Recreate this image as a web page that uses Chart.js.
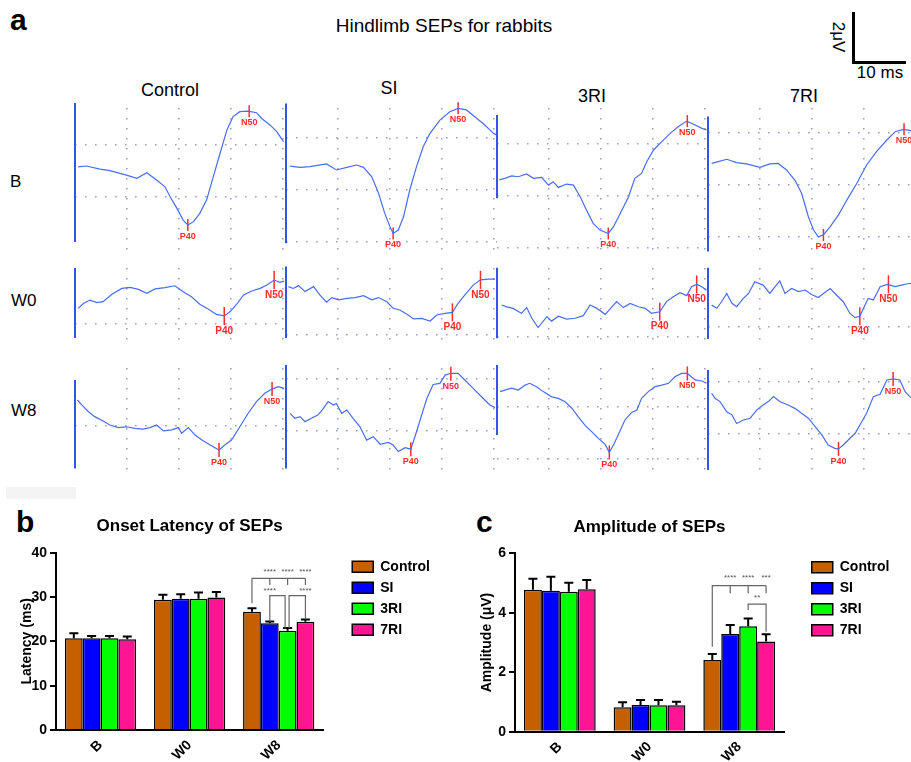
<!DOCTYPE html>
<html>
<head>
<meta charset="utf-8">
<title>Hindlimb SEPs for rabbits</title>
<script src="https://cdn.jsdelivr.net/npm/chart.js@4/dist/chart.umd.min.js"></script>
<style>
  body { margin: 0; width: 911px; height: 762px; position: relative; overflow: hidden; background: #fff;
         font-family: "Liberation Sans", Arial, sans-serif; }
  .txt { position: absolute; line-height: 1; white-space: nowrap; color: #000; }
  .ctr { transform: translateX(-50%); }
  .bold { font-weight: bold; }
  .bar { position: absolute; background: #000; }
  canvas { position: absolute; }
</style>
</head>
<body>
<div class="txt bold" style="left:10px;top:5px;font-size:30px">a</div>
<div class="txt ctr" style="left:444px;top:16px;font-size:19px">Hindlimb SEPs for rabbits</div>
<div class="bar" style="left:852px;top:12px;width:2.5px;height:51px"></div>
<div class="bar" style="left:852px;top:61px;width:54px;height:2.5px"></div>
<div class="txt" style="left:838px;top:37px;font-size:17px;transform:translate(-50%,-50%) rotate(90deg)">2μV</div>
<div class="txt ctr" style="left:880px;top:64px;font-size:17px">10 ms</div>
<div class="txt ctr" style="left:170px;top:81px;font-size:18px">Control</div>
<div class="txt ctr" style="left:389px;top:79px;font-size:18px">SI</div>
<div class="txt ctr" style="left:592px;top:87px;font-size:18px">3RI</div>
<div class="txt ctr" style="left:804px;top:87px;font-size:18px">7RI</div>
<div class="txt" style="left:10px;top:173px;font-size:17px">B</div>
<div class="txt" style="left:11px;top:292px;font-size:17px">W0</div>
<div class="txt" style="left:11px;top:402px;font-size:17px">W8</div>
<div style="position:absolute;left:6px;top:487px;width:70px;height:12px;background:#f4f4f4"></div>
<div class="txt bold" style="left:16px;top:506.6px;font-size:30px">b</div>
<div class="txt bold" style="left:476px;top:506.6px;font-size:30px">c</div>
<canvas id="latency" width="460" height="262" style="left:0;top:500px"></canvas>
<canvas id="amplitude" width="451" height="262" style="left:460px;top:500px"></canvas>
<script>
// ---------- panel a: SEP traces, [ms after stimulus, µV] ----------
const bControl = [[0.6,1.15],[2.2,1.18],[4.8,1.06],[6.7,1.0],[9.9,0.83],[11.9,0.71],[13.8,0.92],[15.7,0.64],[17.3,0.38],[18.3,0.0],[19.6,-0.45],[20.8,-0.9],[21.7,-1.09],[22.8,-0.96],[24.0,-0.64],[25.3,-0.13],[26.6,0.77],[27.9,1.67],[29.2,2.56],[30.4,3.08],[31.7,3.27],[33.3,3.29],[34.9,3.23],[35.9,3.01],[37.5,2.76],[38.8,2.5],[40.1,2.12]];
const bSI = [[0.8,0.92],[2.7,0.87],[4.6,0.9],[7.8,1.0],[9.7,0.77],[11.7,0.87],[13.6,0.96],[14.9,0.87],[16.5,0.51],[17.8,-0.13],[19.0,-0.9],[20.0,-1.41],[20.6,-1.67],[21.6,-1.54],[22.6,-1.03],[23.8,0.0],[25.1,0.9],[26.4,1.67],[27.7,2.18],[29.6,2.69],[31.5,3.01],[33.1,3.14],[34.7,3.08],[36.3,2.82],[37.9,2.56],[39.9,2.18],[40.5,2.12]];
const b3RI = [[0.45,0.62],[1.5,0.68],[2.8,0.77],[4.1,0.74],[5.7,0.85],[7.0,0.68],[8.6,0.72],[9.9,0.42],[10.8,0.55],[11.8,0.33],[13.4,0.46],[14.7,0.42],[16.0,-0.03],[17.2,-0.54],[18.5,-1.05],[19.8,-1.31],[21.4,-1.44],[22.4,-1.18],[23.7,-0.67],[25.3,-0.03],[26.5,0.68],[27.8,0.87],[28.8,1.32],[30.1,1.77],[31.7,2.09],[33.3,2.41],[34.9,2.67],[36.5,2.88],[38.1,2.73],[39.4,2.6],[40.3,2.54]];
const b7RI = [[0.7,0.83],[2.0,0.9],[3.6,0.99],[5.5,0.86],[7.4,0.81],[10.0,0.68],[11.9,0.81],[13.5,0.83],[15.1,0.58],[16.7,0.19],[18.0,-0.32],[19.3,-1.22],[20.3,-1.73],[21.2,-1.99],[22.2,-1.92],[23.5,-1.6],[25.1,-1.15],[26.7,-0.58],[28.6,0.06],[30.5,0.77],[32.4,1.28],[34.4,1.73],[36.0,2.05],[37.6,2.14],[39.0,2.09],[39.6,2.02]];

const w0Control = [[0.64,0.6],[1.6,0.79],[2.9,0.92],[4.2,0.82],[5.4,0.86],[7.1,1.14],[9.0,1.37],[10.6,1.41],[12.2,1.33],[13.8,1.18],[15.4,1.35],[17.3,1.4],[19.2,1.47],[20.8,1.24],[22.4,1.05],[24.0,0.76],[25.6,0.58],[27.2,0.37],[28.7,0.31],[29.8,0.47],[31.1,0.76],[32.4,1.12],[34.0,1.27],[35.6,1.37],[36.9,1.5],[38.3,1.69],[39.4,1.6],[40.2,1.65]];
const w0SI = [[0.45,1.86],[1.4,1.79],[2.4,1.9],[3.65,1.67],[5.3,1.86],[6.5,1.54],[7.8,1.26],[8.8,1.44],[10.1,1.35],[11.7,1.41],[13.3,1.44],[14.9,1.51],[16.5,1.35],[17.8,1.44],[19.4,1.28],[20.6,1.03],[21.9,0.96],[23.5,0.77],[24.5,0.62],[26.1,0.64],[27.7,0.54],[29.0,0.77],[30.6,0.83],[32.0,0.87],[33.1,1.22],[34.4,1.54],[36.0,1.92],[37.4,2.12],[38.9,2.15],[40.2,2.15]];
const w03RI = [[0.9,1.22],[1.9,1.15],[3.1,1.09],[4.7,0.9],[5.7,1.12],[6.7,0.71],[7.9,0.35],[9.6,0.77],[10.5,0.6],[11.8,0.79],[13.4,0.68],[15.0,0.71],[16.6,0.81],[17.9,1.22],[19.2,1.09],[20.8,0.86],[22.1,1.15],[23.0,1.35],[24.3,1.12],[25.6,1.28],[27.2,1.15],[28.5,1.09],[29.7,0.9],[31.3,0.96],[32.6,1.35],[33.9,1.54],[35.2,1.69],[36.5,1.58],[37.4,1.92],[38.4,2.01],[39.4,1.92],[40.3,1.79]];
const w07RI = [[0.7,0.83],[1.7,0.71],[2.6,0.96],[3.6,1.28],[4.6,0.9],[5.5,0.77],[6.8,1.09],[7.8,1.28],[9.0,1.73],[10.6,1.6],[11.9,1.28],[12.9,1.54],[13.8,1.76],[14.8,1.28],[16.1,1.47],[17.4,1.35],[18.7,1.41],[19.9,1.24],[21.2,1.12],[22.2,1.28],[23.5,1.47],[24.7,1.22],[26.0,0.96],[27.3,0.51],[28.3,0.35],[29.2,0.4],[30.2,0.83],[30.8,1.09],[31.8,1.03],[33.1,1.54],[34.5,1.63],[36.0,1.54],[37.2,1.6],[38.8,1.67],[39.6,1.62]];

const w8Control = [[0.45,1.0],[1.3,0.81],[2.6,0.55],[3.8,0.36],[5.4,0.19],[6.7,0.04],[8.3,-0.06],[9.9,-0.03],[11.5,-0.09],[13.1,-0.12],[14.4,-0.06],[15.7,0.04],[17.0,-0.19],[18.6,-0.15],[19.9,-0.06],[20.5,-0.28],[21.8,-0.06],[23.1,-0.35],[24.4,-0.54],[26.0,-0.73],[27.7,-0.92],[28.8,-0.73],[30.1,-0.54],[31.7,-0.03],[33.3,0.49],[34.9,0.94],[36.5,1.26],[37.9,1.42],[39.1,1.51],[40.2,1.45]];
const w8SI = [[0.77,0.68],[1.7,0.49],[2.7,0.55],[3.65,0.36],[4.9,0.49],[6.2,0.62],[7.2,0.87],[8.1,1.13],[9.1,1.0],[9.7,1.06],[10.7,0.68],[11.7,0.81],[12.9,0.49],[14.2,0.17],[15.5,-0.35],[16.8,-0.22],[18.1,-0.51],[19.7,-0.44],[20.6,-0.54],[21.6,-0.79],[22.9,-0.64],[24.0,-0.7],[25.1,-0.03],[26.1,0.62],[27.1,1.26],[28.3,1.79],[29.6,1.83],[30.6,2.15],[31.7,2.22],[33.1,2.22],[34.4,1.96],[36.0,1.64],[37.9,1.26],[39.2,1.0],[40.2,0.9]];
const w83RI = [[0.6,0.58],[1.5,0.64],[2.8,0.71],[4.1,0.64],[5.4,0.83],[6.3,0.9],[7.6,0.77],[8.9,0.58],[10.5,0.38],[11.8,0.32],[13.1,0.19],[14.4,-0.06],[15.6,-0.38],[16.9,-0.71],[18.2,-0.96],[19.5,-1.22],[20.8,-1.45],[21.6,-1.76],[22.4,-1.47],[23.3,-1.09],[24.6,-0.51],[25.9,-0.22],[26.9,-0.13],[27.8,0.32],[29.1,0.58],[30.4,0.77],[31.7,0.83],[33.0,0.9],[34.2,1.15],[35.5,1.28],[36.6,1.28],[38.1,1.03],[39.4,0.99],[40.3,0.9]];
const w87RI = [[0.7,1.54],[1.35,1.35],[2.3,1.22],[3.6,0.83],[4.6,0.71],[5.5,0.38],[6.8,0.51],[8.1,0.58],[9.4,0.9],[10.6,1.09],[11.6,1.22],[12.6,1.41],[13.8,1.22],[15.4,1.09],[16.7,0.96],[18.0,0.77],[19.3,0.58],[20.6,0.26],[21.9,-0.06],[23.1,-0.45],[24.4,-0.58],[25.1,-0.6],[26.0,-0.45],[27.3,-0.19],[28.3,0.0],[29.2,0.32],[30.5,0.77],[31.8,1.41],[33.1,1.5],[34.4,2.05],[35.6,2.09],[36.9,2.05],[37.9,1.6],[38.8,1.41],[39.6,1.3]];

// stimulus artefact extent [top µV, bottom µV] for Control, SI, 3RI, 7RI
const stimB = [[3.6,-1.74],[3.33,-2.05],[3.12,-0.09],[2.63,-2.56]];
const stimW0 = [[2.15,-0.54],[2.63,-0.12],[2.65,-0.06],[2.27,-0.47]];
const stimW8 = [[1.77,-1.63],[2.54,-1.44],[1.6,-1.09],[2.43,-1.41]];

// marked peaks [P40 ms, P40 µV, N50 ms, N50 µV]
const peaksB = [[21.7,-1.09,33.5,3.29],[20.6,-1.67,33.1,3.14],[21.4,-1.44,36.6,2.88],[22.2,-1.92,37.7,2.14]];
const peaksW0 = [[28.7,0.31,38.3,1.69],[32.0,0.87,37.4,2.12],[31.3,0.96,38.4,2.01],[29.2,0.4,34.7,1.63]];
const peaksW8 = [[27.7,-0.92,37.9,1.42],[24.0,-0.7,31.7,2.2],[21.6,-1.76,36.6,1.28],[25.1,-0.6,35.6,2.09]];

// ---------- panels b and c ----------
const groups = ['B', 'W0', 'W8'];
const seriesNames = ['Control', 'SI', '3RI', '7RI'];
const latencyMean = [[20.7, 29.4, 26.7], [20.7, 29.6, 24.1], [20.7, 29.6, 22.4], [20.5, 29.9, 24.4]];
const latencySem = [[1.1, 1.1, 0.75], [0.5, 1.0, 0.4], [0.5, 1.4, 0.6], [0.6, 1.25, 0.55]];
const amplitudeMean = [[4.77, 0.82, 2.41], [4.74, 0.90, 3.29], [4.71, 0.89, 3.55], [4.79, 0.89, 3.03]];
const amplitudeSem = [[0.37, 0.17, 0.20], [0.47, 0.17, 0.30], [0.30, 0.18, 0.26], [0.31, 0.12, 0.25]];

// significance marks at W8 (series index, bracket heights in axis units)
const latencyStars = {
  group: 2,
  fan: {ref: 0, targets: [1, 2, 3], stars: ['****', '****', '****'], y: 34.2, refEnd: 28.6, tickEnd: 32.7, labelY: 35.7},
  pairs: [
    {a: 1, b: 2, stars: '****', y: 30.3, aEnd: 24.45, bEnd: 22.95, labelAt: 'a', labelY: 31.5, bShift: -2.5},
    {a: 2, b: 3, stars: '****', y: 30.3, aEnd: 22.95, bEnd: 25.0, labelAt: 'b', labelY: 31.5, aShift: 1.5}
  ]
};
const amplitudeStars = {
  group: 2,
  fan: {ref: 0, targets: [1, 2, 3], stars: ['****', '****', '***'], y: 4.91, refEnd: 2.86, tickEnd: 4.66, labelY: 5.16},
  pairs: [
    {a: 2, b: 3, stars: '**', y: 4.29, aEnd: 4.09, bEnd: 3.36, labelAt: 'mid', labelY: 4.49}
  ]
};

// ---------- styles / layout ----------
Chart.defaults.font.family = '"Liberation Sans", Arial, sans-serif';
Chart.defaults.color = '#000';

const seriesColors = ['#c46000', '#0000ff', '#00ff00', '#ff1493'];
const traceColor = '#4a6cf0';
const stimColor = '#3354ea';
const peakColor = '#ff2a2a';
const dotColor = '#9aa0cc';
const PX_MS = 5.2, PX_UV = 26, TRACE_W = 211;
const colLeft = [75, 286, 497, 708];

const rows = [
  {traces: [bControl, bSI, b3RI, b7RI], stim: stimB, peaks: peaksB,
   zeroY: [196.7, 190, 196, 185], hRows: [[0, 2], [-2, 0, 2], [-2, 0, 2], [-2, 0, 2]],
   areaTop: 108, areaBottom: 250, padTop: 12, padBottom: 14, tick: 6, labelSize: 9},
  {traces: [w0Control, w0SI, w03RI, w07RI], stim: stimW0, peaks: peaksW0,
   zeroY: [324, 335, 336.7, 326.7], hRows: [[0], [0], [0], [0]],
   areaTop: 268, areaBottom: 340, padTop: 10, padBottom: 16, tick: 9, labelSize: 10},
  {traces: [w8Control, w8SI, w83RI, w87RI], stim: stimW8, peaks: peaksW8,
   zeroY: [426, 431, 406.7, 433.3], hRows: [[0], [0, 2], [-2, 0], [0, 2]],
   areaTop: 368, areaBottom: 470, padTop: 10, padBottom: 14, tick: 7, labelSize: 9}
];

const peakLabels = {
  id: 'peakLabels',
  afterDatasetsDraw(chart) {
    const ctx = chart.ctx;
    chart.data.datasets.forEach((ds, i) => {
      if (!ds.peakNames) return;
      ctx.save();
      ctx.fillStyle = ds.pointBorderColor;
      ctx.font = 'bold ' + ds.labelSize + 'px "Liberation Sans", Arial, sans-serif';
      ctx.textAlign = 'center';
      ctx.textBaseline = 'top';
      chart.getDatasetMeta(i).data.forEach((pt, j) => {
        ctx.fillText(ds.peakNames[j], pt.x, pt.y + ds.pointRadius + 1);
      });
      ctx.restore();
    });
  }
};

function dottedAxis(min, max, values) {
  return {
    type: 'linear', min: min, max: max,
    ticks: {display: false},
    grid: {drawTicks: false, color: dotColor, lineWidth: 1.6},
    border: {display: false, dash: [1.6, 8.4]},
    afterBuildTicks: s => { s.ticks = values.map(v => ({value: v})); }
  };
}

rows.forEach(row => {
  row.traces.forEach((trace, c) => {
    const cv = document.createElement('canvas');
    const h = row.areaBottom - row.areaTop + row.padTop + row.padBottom;
    cv.width = TRACE_W + 12;
    cv.height = h;
    cv.style.left = (colLeft[c] - 6) + 'px';
    cv.style.top = (row.areaTop - row.padTop) + 'px';
    document.body.appendChild(cv);

    const z = row.zeroY[c];
    const pk = row.peaks[c];
    new Chart(cv, {
      type: 'line',
      data: {
        datasets: [
          {data: [{x: 0, y: row.stim[c][0]}, {x: 0, y: row.stim[c][1]}],
           borderColor: stimColor, borderWidth: 2, pointRadius: 0, clip: false},
          {data: trace.map(p => ({x: p[0], y: p[1]})),
           borderColor: traceColor, borderWidth: 1.2, pointRadius: 0, tension: 0, clip: false},
          {data: [{x: pk[0], y: pk[1]}, {x: pk[2], y: pk[3]}], peakNames: ['P40', 'N50'],
           showLine: false, pointStyle: 'line', pointRotation: 90, pointRadius: row.tick,
           pointBorderColor: peakColor, pointBorderWidth: 1.5, labelSize: row.labelSize, clip: false}
        ]
      },
      options: {
        responsive: false, animation: false, events: [],
        layout: {autoPadding: false, padding: {left: 6, right: 6, top: row.padTop, bottom: row.padBottom}},
        plugins: {legend: {display: false}, tooltip: {enabled: false}},
        scales: {
          x: dottedAxis(0, TRACE_W / PX_MS, [10, 20, 30, 40]),
          y: dottedAxis((z - row.areaBottom) / PX_UV, (z - row.areaTop) / PX_UV, row.hRows[c])
        }
      },
      plugins: [peakLabels]
    });
  });
});

// ---------- bar charts ----------
const errorBars = {
  id: 'errorBars',
  afterDatasetsDraw(chart) {
    const {ctx, scales: {y}} = chart;
    ctx.save();
    ctx.strokeStyle = '#000';
    ctx.lineWidth = 2;
    chart.data.datasets.forEach((ds, i) => {
      chart.getDatasetMeta(i).data.forEach((bar, j) => {
        const top = y.getPixelForValue(ds.data[j] + ds.sem[j]);
        ctx.beginPath();
        ctx.moveTo(bar.x, bar.y);
        ctx.lineTo(bar.x, top);
        ctx.moveTo(bar.x - 4.5, top);
        ctx.lineTo(bar.x + 4.5, top);
        ctx.stroke();
      });
    });
    ctx.restore();
  }
};

function starBrackets(marks) {
  return {
    id: 'starBrackets',
    afterDatasetsDraw(chart) {
      const {ctx, scales: {y}} = chart;
      const X = (s, dx) => chart.getDatasetMeta(s).data[marks.group].x + (dx || 0);
      const Y = v => y.getPixelForValue(v);
      ctx.save();
      ctx.strokeStyle = '#666';
      ctx.lineWidth = 1.2;
      ctx.fillStyle = '#555';
      ctx.font = '8px "Liberation Sans", Arial, sans-serif';
      ctx.textAlign = 'center';
      ctx.textBaseline = 'middle';
      const f = marks.fan;
      const last = f.targets[f.targets.length - 1];
      ctx.beginPath();
      ctx.moveTo(X(f.ref), Y(f.refEnd));
      ctx.lineTo(X(f.ref), Y(f.y));
      ctx.lineTo(X(last), Y(f.y));
      f.targets.forEach(t => { ctx.moveTo(X(t), Y(f.y)); ctx.lineTo(X(t), Y(f.tickEnd)); });
      ctx.stroke();
      f.targets.forEach((t, k) => ctx.fillText(f.stars[k], X(t), Y(f.labelY)));
      marks.pairs.forEach(p => {
        const xa = X(p.a, p.aShift), xb = X(p.b, p.bShift);
        ctx.beginPath();
        ctx.moveTo(xa, Y(p.aEnd));
        ctx.lineTo(xa, Y(p.y));
        ctx.lineTo(xb, Y(p.y));
        ctx.lineTo(xb, Y(p.bEnd));
        ctx.stroke();
        const lx = p.labelAt === 'a' ? xa : p.labelAt === 'b' ? xb : (xa + xb) / 2;
        ctx.fillText(p.stars, lx, Y(p.labelY));
      });
      ctx.restore();
    }
  };
}

function barPanel(id, title, yTitle, means, sems, yMax, step, marks, box) {
  new Chart(document.getElementById(id), {
    type: 'bar',
    data: {
      labels: groups,
      datasets: seriesNames.map((name, i) => ({
        label: name, data: means[i], sem: sems[i],
        backgroundColor: seriesColors[i], borderColor: '#000', borderWidth: 1.5,
        categoryPercentage: 0.8, barPercentage: 1.0
      }))
    },
    options: {
      responsive: false, animation: false, events: [],
      layout: {padding: {left: 0, right: box.padRight, top: 0, bottom: 0}},
      plugins: {
        title: {display: true, text: title, fullSize: false, color: '#000',
                font: {size: 17, weight: 'bold'}, padding: {top: box.titleTop, bottom: box.titleBottom}},
        legend: {position: 'right', align: 'start', fullSize: false, maxWidth: 200,
                 labels: {boxWidth: 21, boxHeight: 11, padding: 7, color: '#000', font: {size: 14, weight: 'bold'}}},
        tooltip: {enabled: false}
      },
      scales: {
        x: {
          grid: {display: false, drawTicks: false},
          border: {color: '#000', width: 2},
          ticks: {minRotation: 45, maxRotation: 45, padding: 7, color: '#000', font: {size: 14, weight: 'bold'}},
          afterFit: s => { s.height = box.xHeight; }
        },
        y: {
          min: 0, max: yMax,
          ticks: {stepSize: step, padding: 3, color: '#000', font: {size: 14, weight: 'bold'}},
          grid: {drawOnChartArea: false, color: '#000', lineWidth: 2, tickLength: 6},
          border: {color: '#000', width: 2},
          title: {display: true, text: yTitle, color: '#000', font: {size: 14, weight: 'bold'},
                  padding: {top: box.yTitlePad, bottom: 0}},
          afterFit: s => { s.width = box.yWidth; }
        },
        gap: {
          type: 'linear', position: 'right',
          grid: {display: false, drawTicks: false}, border: {display: false}, ticks: {display: false},
          afterFit: s => { s.width = box.gap; }
        }
      }
    },
    plugins: [errorBars, starBrackets(marks)]
  });
}

barPanel('latency', 'Onset Latency of SEPs', 'Latency (ms)', latencyMean, latencySem, 40, 10, latencyStars,
  {padRight: 20, titleTop: 15.8, titleBottom: 16.5, xHeight: 32, yWidth: 56, yTitlePad: 18.6, gap: 22});
barPanel('amplitude', 'Amplitude of SEPs', 'Amplitude (μV)', amplitudeMean, amplitudeSem, 6, 2, amplitudeStars,
  {padRight: 11.5, titleTop: 16.8, titleBottom: 16.1, xHeight: 30.3, yWidth: 55, yTitlePad: 18.3, gap: 20.7});
</script>
</body>
</html>
